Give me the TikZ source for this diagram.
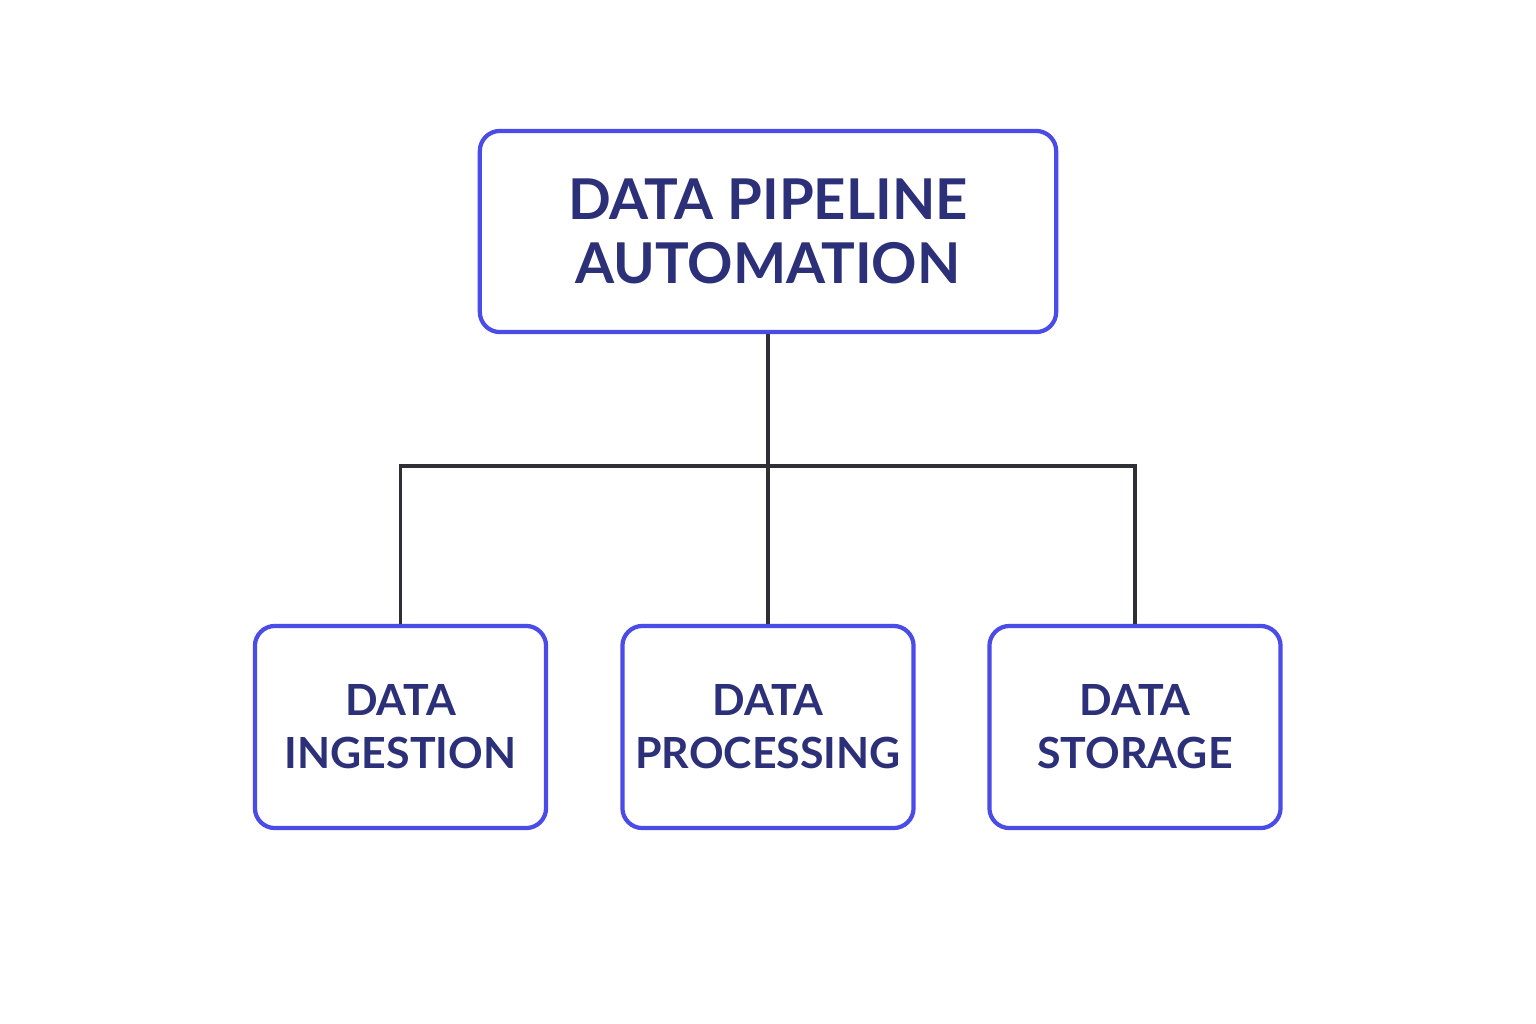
\documentclass[tikz,border=0pt]{standalone}
\usepackage{fontspec}
\setmainfont{Lato}
\definecolor{boxblue}{HTML}{4B4BE8}
\definecolor{navy}{HTML}{2B3078}
\definecolor{linegray}{HTML}{2E3036}
\begin{document}
\begin{tikzpicture}[x=0.01cm,y=-0.01cm,
  box/.style={draw=boxblue, line width=1.2pt, rounded corners=0.2cm, fill=white, align=center, text=navy, font=\bfseries, inner sep=0pt},
  topbox/.style={box, minimum width=5.76cm, minimum height=2.01cm, font=\bfseries\fontsize{16}{18.4}\selectfont},
  subbox/.style={box, text width=2.85cm, minimum width=2.91cm, minimum height=2.02cm, font=\bfseries\fontsize{12.2}{15}\selectfont},
  conn/.style={draw=linegray, line width=1.1pt}]
\useasboundingbox (0,0) rectangle (1536,1024);
\fill[white] (0,0) rectangle (1536,1024);
\node[topbox] (top) at (768,231.5) {DATA PIPELINE\\AUTOMATION};
\node[subbox] (ing) at (400.5,727) {DATA\\INGESTION};
\node[subbox] (proc) at (768,727) {DATA\\PROCESSING};
\node[subbox] (stor) at (1135,727) {DATA\\STORAGE};
\coordinate (hub) at (768,466);
\draw[conn] (top.south) -- (hub);
\draw[conn] (hub) -| (ing.north);
\draw[conn] (hub) -| (stor.north);
\draw[conn] (hub) -- (proc.north);
\end{tikzpicture}
\end{document}
